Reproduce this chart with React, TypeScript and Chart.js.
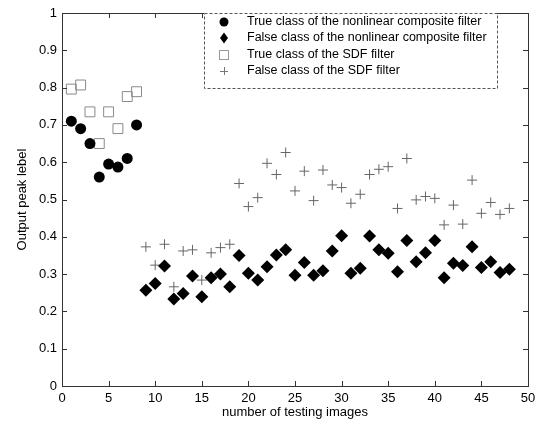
import React, { useEffect, useRef } from "react";
import { Chart, registerables } from "chart.js";

Chart.register(...registerables);

// ---- data ----
const trueX = [1, 2, 3, 4, 5, 6, 7, 8];
const trueNonlinear = [0.71, 0.69, 0.65, 0.56, 0.595, 0.587, 0.61, 0.70];
const trueSDF = [0.796, 0.807, 0.735, 0.65, 0.735, 0.69, 0.776, 0.789];

const falseX = [
  9, 10, 11, 12, 13, 14, 15, 16, 17, 18, 19, 20, 21, 22, 23, 24, 25, 26, 27, 28,
  29, 30, 31, 32, 33, 34, 35, 36, 37, 38, 39, 40, 41, 42, 43, 44, 45, 46, 47, 48,
];
const falseNonlinear = [
  0.257, 0.275, 0.322, 0.233, 0.248, 0.295, 0.239, 0.29, 0.30, 0.266,
  0.35, 0.302, 0.284, 0.32, 0.351, 0.365, 0.297, 0.331, 0.297, 0.309,
  0.362, 0.403, 0.302, 0.316, 0.402, 0.365, 0.356, 0.306, 0.39, 0.333,
  0.357, 0.39, 0.29, 0.329, 0.323, 0.373, 0.318, 0.333, 0.304, 0.313,
];
const falseSDF = [
  0.373, 0.324, 0.38, 0.266, 0.362, 0.365, 0.284, 0.357, 0.371, 0.38,
  0.543, 0.481, 0.505, 0.597, 0.567, 0.626, 0.523, 0.576, 0.497, 0.579,
  0.539, 0.532, 0.49, 0.514, 0.567, 0.581, 0.588, 0.476, 0.61, 0.499,
  0.508, 0.503, 0.432, 0.485, 0.434, 0.552, 0.463, 0.492, 0.46, 0.476,
];

const xTicks = [0, 5, 10, 15, 20, 25, 30, 35, 40, 45, 50];
const yTicks = [0, 0.1, 0.2, 0.3, 0.4, 0.5, 0.6, 0.7, 0.8, 0.9, 1];
const yTickLabels = ["0", "0.1", "0.2", "0.3", "0.4", "0.5", "0.6", "0.7", "0.8", "0.9", "1"];

const seriesLabels = [
  "True class of the nonlinear composite filter",
  "False class of the nonlinear composite filter",
  "True class of the SDF filter",
  "False class of the SDF filter",
];

const FONT = "'Liberation Sans', Arial, sans-serif";

const zip = (xs: number[], ys: number[]) => xs.map((x, i) => ({ x, y: ys[i] }));

const framePlugin = {
  id: "matlabFrame",
  afterDatasetsDraw(chart: any) {
    const { ctx, chartArea: a, scales } = chart;
    const xs = scales.x;
    const ys = scales.y;
    ctx.save();
    ctx.strokeStyle = "#333";
    ctx.lineWidth = 1;
    ctx.strokeRect(a.left + 0.5, a.top + 0.5, a.right - a.left, a.bottom - a.top);
    ctx.beginPath();
    const tl = 5;
    xTicks.forEach((v) => {
      const px = Math.round(xs.getPixelForValue(v)) + 0.5;
      ctx.moveTo(px, a.bottom);
      ctx.lineTo(px, a.bottom - tl);
      ctx.moveTo(px, a.top);
      ctx.lineTo(px, a.top + tl);
    });
    yTicks.forEach((v) => {
      const py = Math.round(ys.getPixelForValue(v)) + 0.5;
      ctx.moveTo(a.left, py);
      ctx.lineTo(a.left + tl, py);
      ctx.moveTo(a.right, py);
      ctx.lineTo(a.right - tl, py);
    });
    ctx.stroke();

    // legend
    const bx = 204, by = 13, bw = 293, bh = 75;
    ctx.fillStyle = "#fff";
    ctx.fillRect(bx, by, bw, bh);
    ctx.setLineDash([3, 2]);
    ctx.strokeStyle = "#555";
    ctx.strokeRect(bx + 0.5, by + 0.5, bw, bh);
    ctx.setLineDash([]);
    const rowY = [22, 38, 55, 71];
    const mx = 224;
    ctx.font = `12.5px ${FONT}`;
    ctx.textBaseline = "middle";
    ctx.textAlign = "left";
    rowY.forEach((y, i) => {
      ctx.fillStyle = "#000";
      ctx.fillText(seriesLabels[i], 247, y);
      ctx.beginPath();
      if (i === 0) {
        ctx.arc(mx, y, 4.5, 0, Math.PI * 2);
        ctx.fillStyle = "#000";
        ctx.fill();
      } else if (i === 1) {
        ctx.moveTo(mx, y - 5.5);
        ctx.lineTo(mx + 4, y);
        ctx.lineTo(mx, y + 5.5);
        ctx.lineTo(mx - 4, y);
        ctx.closePath();
        ctx.fillStyle = "#000";
        ctx.fill();
      } else if (i === 2) {
        ctx.strokeStyle = "#999";
        ctx.strokeRect(mx - 4.5, y - 4.5, 9, 9);
      } else {
        ctx.strokeStyle = "#777";
        ctx.moveTo(mx - 4, y + 0.5);
        ctx.lineTo(mx + 4, y + 0.5);
        ctx.moveTo(mx + 0.5, y - 4);
        ctx.lineTo(mx + 0.5, y + 4);
        ctx.stroke();
      }
    });
    ctx.restore();
  },
};

export default function App() {
  const ref = useRef<HTMLCanvasElement | null>(null);
  useEffect(() => {
    document.body.style.margin = "0";
    const chart = new Chart(ref.current as HTMLCanvasElement, {
      type: "scatter",
      data: {
        datasets: [
          {
            label: seriesLabels[0],
            data: zip(trueX, trueNonlinear),
            pointStyle: "circle",
            pointRadius: 5.5,
            backgroundColor: "#000",
            borderColor: "#000",
            borderWidth: 0,
          },
          {
            label: seriesLabels[1],
            data: zip(falseX, falseNonlinear),
            pointStyle: "rectRot",
            pointRadius: 6.5,
            backgroundColor: "#000",
            borderColor: "#000",
            borderWidth: 0,
          },
          {
            label: seriesLabels[2],
            data: zip(trueX, trueSDF),
            pointStyle: "rect",
            pointRadius: 7,
            backgroundColor: "rgba(0,0,0,0)",
            borderColor: "#8a8a8a",
            borderWidth: 1,
          },
          {
            label: seriesLabels[3],
            data: zip(falseX, falseSDF),
            pointStyle: "cross",
            pointRadius: 5,
            backgroundColor: "rgba(0,0,0,0)",
            borderColor: "#666",
            borderWidth: 1,
          },
        ],
      },
      options: {
        animation: false,
        responsive: false,
        maintainAspectRatio: false,
        layout: { padding: { left: 0, top: 13, right: 15, bottom: 0 } },
        plugins: { legend: { display: false }, tooltip: { enabled: false } },
        scales: {
          x: {
            type: "linear",
            min: 0,
            max: 50,
            afterBuildTicks: (s: any) => {
              s.ticks = xTicks.map((v) => ({ value: v }));
            },
            afterFit: (s: any) => {
              s.height = 39;
            },
            grid: { display: false, drawTicks: false },
            border: { display: false },
            ticks: { color: "#000", font: { family: FONT, size: 13 }, padding: 5, maxRotation: 0 },
            title: {
              display: true,
              text: "number of testing images",
              color: "#000",
              font: { family: FONT, size: 13 },
              padding: { top: 0, bottom: 5 },
            },
          },
          y: {
            type: "linear",
            min: 0,
            max: 1,
            afterBuildTicks: (s: any) => {
              s.ticks = yTicks.map((v) => ({ value: v }));
            },
            afterFit: (s: any) => {
              s.width = 62;
            },
            grid: { display: false, drawTicks: false },
            border: { display: false },
            ticks: {
              color: "#000",
              font: { family: FONT, size: 13 },
              padding: 5,
              callback: (_v: any, i: number) => yTickLabels[i],
            },
            title: {
              display: true,
              text: "Output peak lebel",
              color: "#000",
              font: { family: FONT, size: 13 },
              padding: { top: 15, bottom: 0 },
            },
          },
        },
      },
      plugins: [framePlugin],
    });
    return () => chart.destroy();
  }, []);
  return (
    <div style={{ position: "absolute", left: 0, top: 0, width: 543, height: 425, background: "#fff" }}>
      <canvas ref={ref} width={543} height={425} style={{ width: 543, height: 425 }} />
    </div>
  );
}
